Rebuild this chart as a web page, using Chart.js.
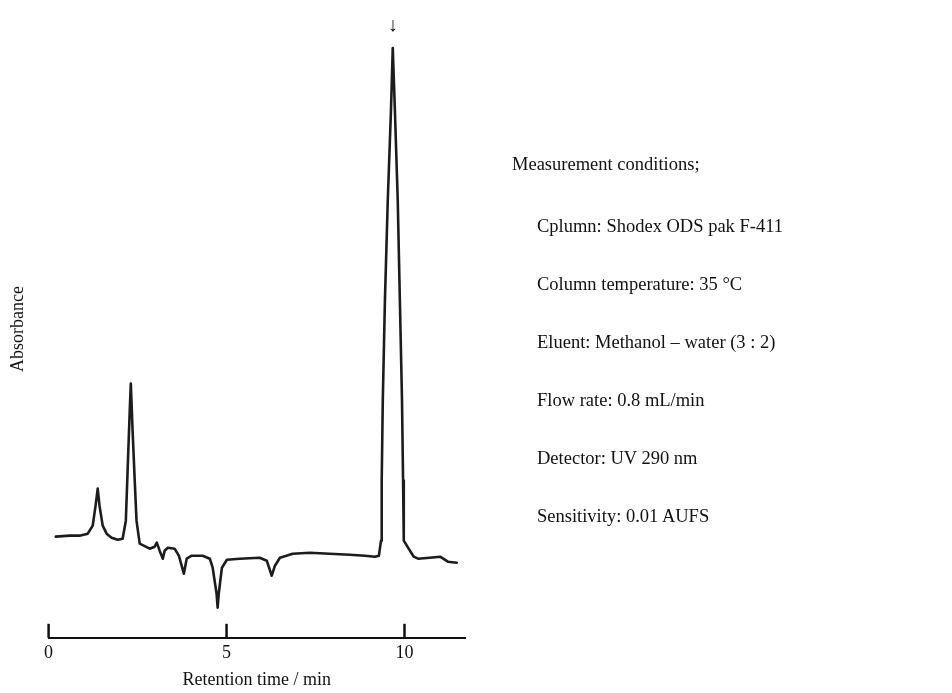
<!DOCTYPE html>
<html>
<head>
<meta charset="utf-8">
<script src="https://cdn.jsdelivr.net/npm/chart.js@4"></script>
<style>
  html, body { margin: 0; padding: 0; background: #fff; }
  #wrap { position: relative; width: 952px; height: 693px; }
  #conds {
    position: absolute; left: 512px; top: 135px;
    font-family: "Liberation Serif", "Times New Roman", serif;
    font-size: 18.5px; color: #111; line-height: 58px;
  }
  #conds .head { margin-bottom: 4px; }
  #conds .item { padding-left: 25px; }
</style>
</head>
<body>
<div id="wrap">
  <canvas id="chrom" width="952" height="693"></canvas>
  <div id="conds"></div>
</div>
<script>
// retention time (min) and detector signal (arbitrary units, main peak ~100)
const tiempo = [0.20, 0.59, 0.87, 1.10, 1.24, 1.32, 1.38, 1.43, 1.52, 1.63, 1.77, 1.94, 2.08,
  2.17, 2.22, 2.28, 2.31, 2.36, 2.42, 2.47, 2.56, 2.84, 2.98, 3.04, 3.12, 3.21, 3.26, 3.35,
  3.54, 3.66, 3.80, 3.88, 4.02, 4.33, 4.53, 4.61, 4.72, 4.75, 4.78, 4.87, 5.01, 5.37, 5.93,
  6.13, 6.27, 6.36, 6.50, 6.86, 7.34, 7.90, 8.46, 8.89, 9.17, 9.28, 9.34, 9.36, 9.39, 9.45,
  9.53, 9.62, 9.67, 9.73, 9.81, 9.87, 9.93, 9.96, 9.98, 10.10, 10.26, 10.38, 10.71, 11.00,
  11.22, 11.47];
const senal = [3.8, 4.0, 4.0, 4.4, 6, 10, 13.4, 10, 6, 4.4, 3.6, 3.2, 3.4,
  7, 17, 29, 34.4, 25, 15, 7, 2.4, 1.4, 1.8, 2.6, 1.0, -0.6, 1.0, 1.6,
  1.4, 0, -3.6, -0.6, 0, 0, -0.6, -2.4, -7.6, -10.4, -7.6, -2.4, -0.8, -0.6, -0.4,
  -1.0, -4.0, -2.0, -0.4, 0.4, 0.6, 0.4, 0.2, 0.0, -0.2, 0, 3, 15, 31, 51,
  71, 89, 101.4, 89, 71, 51, 31, 15, 3, 1.6, -0.2, -0.6, -0.4, -0.2,
  -1.2, -1.4];
const ticksX = [0, 5, 10];
const picoMarcado = 9.67;   // peak marked with the arrow

const condiciones = [
  'Cplumn: Shodex ODS pak F-411',
  'Column temperature: 35 °C',
  'Eluent: Methanol – water (3 : 2)',
  'Flow rate: 0.8 mL/min',
  'Detector: UV 290 nm',
  'Sensitivity: 0.01 AUFS'
];

const fuente = '"Liberation Serif", "Times New Roman", serif';

// texto de condiciones
const box = document.getElementById('conds');
let h = document.createElement('div');
h.className = 'head';
h.textContent = 'Measurement conditions;';
box.appendChild(h);
condiciones.forEach(c => {
  const d = document.createElement('div');
  d.className = 'item';
  d.textContent = c;
  box.appendChild(d);
});

// marcas hacia arriba sobre el eje + flecha del pico
const marcas = {
  id: 'marcas',
  afterDraw(chart) {
    const ctx = chart.ctx;
    const x = chart.scales.x, y = chart.scales.y;
    const base = chart.chartArea.bottom;
    ctx.save();
    ctx.strokeStyle = '#111';
    ctx.lineWidth = 2.5;
    x.ticks.forEach(t => {
      const px = x.getPixelForValue(t.value);
      ctx.beginPath();
      ctx.moveTo(px, base);
      ctx.lineTo(px, base - 14);
      ctx.stroke();
    });
    const i = tiempo.indexOf(picoMarcado);
    const ax = x.getPixelForValue(picoMarcado);
    const ay = y.getPixelForValue(senal[i]);
    ctx.fillStyle = '#111';
    ctx.font = '20px ' + fuente;
    ctx.textAlign = 'center';
    ctx.textBaseline = 'bottom';
    ctx.fillText('↓', ax, ay - 12);
    ctx.restore();
  }
};

new Chart(document.getElementById('chrom'), {
  type: 'line',
  data: {
    datasets: [{
      data: tiempo.map((t, i) => ({ x: t, y: senal[i] })),
      borderColor: '#1c1c1c',
      borderWidth: 2.6,
      borderJoinStyle: 'round',
      borderCapStyle: 'round',
      pointRadius: 0,
      tension: 0,
      fill: false
    }]
  },
  options: {
    responsive: false,
    animation: false,
    layout: { padding: { left: 7, right: 487, top: 20, bottom: 0 } },
    plugins: { legend: { display: false }, tooltip: { enabled: false } },
    scales: {
      x: {
        type: 'linear',
        min: 0,
        max: 11.7,
        afterBuildTicks: s => { s.ticks = ticksX.map(v => ({ value: v })); },
        grid: { display: false, drawTicks: false },
        border: { display: true, color: '#111', width: 2 },
        ticks: { color: '#111', padding: 5, font: { family: fuente, size: 18 } },
        title: {
          display: true, text: 'Retention time / min', color: '#111',
          padding: { top: 0, bottom: 2 }, font: { family: fuente, size: 18 }
        }
      },
      y: {
        min: -16.4,
        max: 107,
        grid: { display: false, drawTicks: false },
        border: { display: false },
        ticks: { display: false },
        title: {
          display: true, text: 'Absorbance', color: '#111',
          padding: { top: 0, bottom: 20 }, font: { family: fuente, size: 18 }
        }
      }
    }
  },
  plugins: [marcas]
});
</script>
</body>
</html>
